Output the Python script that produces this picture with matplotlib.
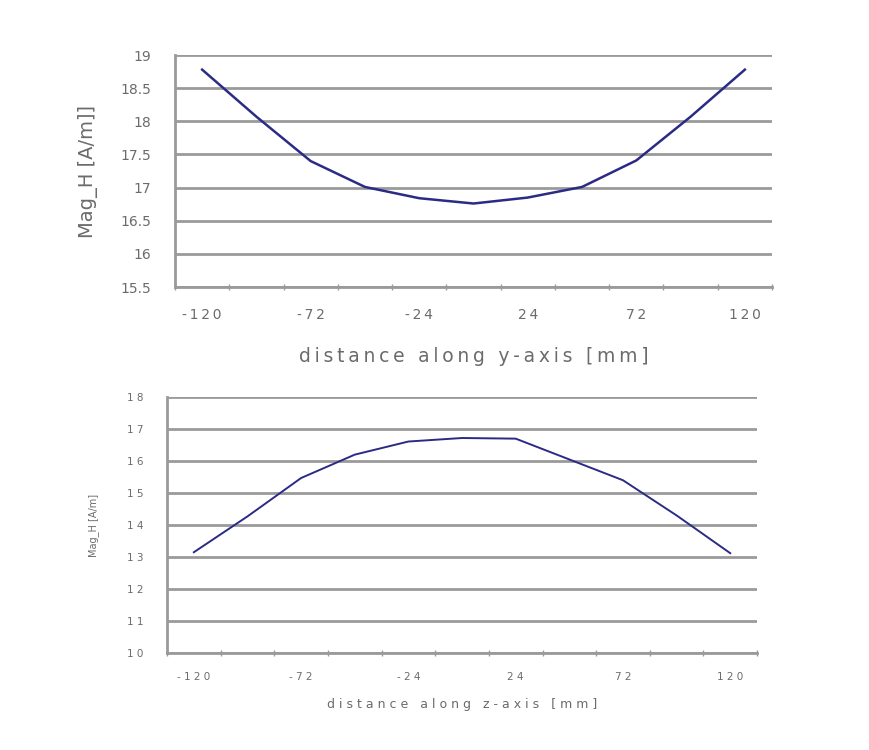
import matplotlib
matplotlib.use("Agg")
import matplotlib.pyplot as plt
import numpy as np

# positions along the axis [mm], one category every 24 mm
positions = [-120, -96, -72, -48, -24, 0, 24, 48, 72, 96, 120]
# Mag_H along y-axis [A/m]
mag_y = [18.78, 18.07, 17.40, 17.01, 16.84, 16.76, 16.85, 17.01, 17.41, 18.07, 18.78]
# Mag_H along z-axis [A/m]
mag_z = [13.15, 14.27, 15.47, 16.20, 16.61, 16.72, 16.70, 16.05, 15.40, 14.30, 13.12]
shown_labels = [-120, -72, -24, 24, 72, 120]

text_col = "#6b6b6b"
grid_col = "#9a9a9a"
line_col = "#2b2b86"

plt.rcParams['font.family'] = ['DejaVu Sans']


def spaced(s, sep):
    return sep.join(list(s))


def style_axes(ax, ylim, yticks, ylabels, tick_fs, sep, xpad):
    n = len(positions)
    ax.set_xlim(0, n)
    ax.set_ylim(*ylim)
    ax.set_yticks(yticks)
    ax.set_yticklabels(ylabels, fontsize=tick_fs, color=text_col)
    ax.yaxis.grid(True, color=grid_col, linewidth=2)
    ax.set_axisbelow(True)
    # category boundaries carry the tick marks, labels sit in the middle
    ax.set_xticks(np.arange(n + 1))
    ax.set_xticklabels([])
    ax.set_xticks(np.arange(n) + 0.5, minor=True)
    labs = [spaced(str(p), sep) if p in shown_labels else "" for p in positions]
    ax.set_xticklabels(labs, minor=True, fontsize=tick_fs, color=text_col)
    ax.tick_params(axis='x', which='major', direction='inout', length=5,
                   color=grid_col, width=1)
    ax.tick_params(axis='x', which='minor', length=0, pad=xpad)
    ax.tick_params(axis='y', length=0, pad=17)
    for s in ['top', 'right']:
        ax.spines[s].set_visible(False)
    for s in ['left', 'bottom']:
        ax.spines[s].set_color(grid_col)
        ax.spines[s].set_linewidth(2)


fig = plt.figure(figsize=(8.69, 7.5), dpi=100)

# upper chart: y-axis scan
ax1 = fig.add_axes([0.2014, 0.6173, 0.687, 0.3093])
x = np.arange(len(positions)) + 0.5
ax1.plot(x, mag_y, color=line_col, linewidth=1.8)
yt1 = [15.5, 16, 16.5, 17, 17.5, 18, 18.5, 19]
style_axes(ax1, (15.5, 19), yt1, [f"{v:g}" for v in yt1], 10, "\u2009", 15)
ax1.set_ylabel("Mag_H [A/m]]", fontsize=14, color=text_col, labelpad=16)
ax1.set_xlabel(spaced("distance along y-axis [mm]", "\u2009"), fontsize=13.5,
               color=text_col, labelpad=18)

# lower chart: z-axis scan
ax2 = fig.add_axes([0.1922, 0.1293, 0.679, 0.3413])
ax2.plot(x, mag_z, color=line_col, linewidth=1.4)
yt2 = list(range(10, 19))
style_axes(ax2, (10, 18), yt2, [spaced(str(v), " ") for v in yt2], 7.5, " ", 14)
ax2.set_ylabel("Mag_H [A/m]", fontsize=7, color=text_col, labelpad=20)
ax2.set_xlabel(spaced("distance along z-axis [mm]", " "), fontsize=9,
               color=text_col, labelpad=11)

fig.savefig("out.png", dpi=100)
